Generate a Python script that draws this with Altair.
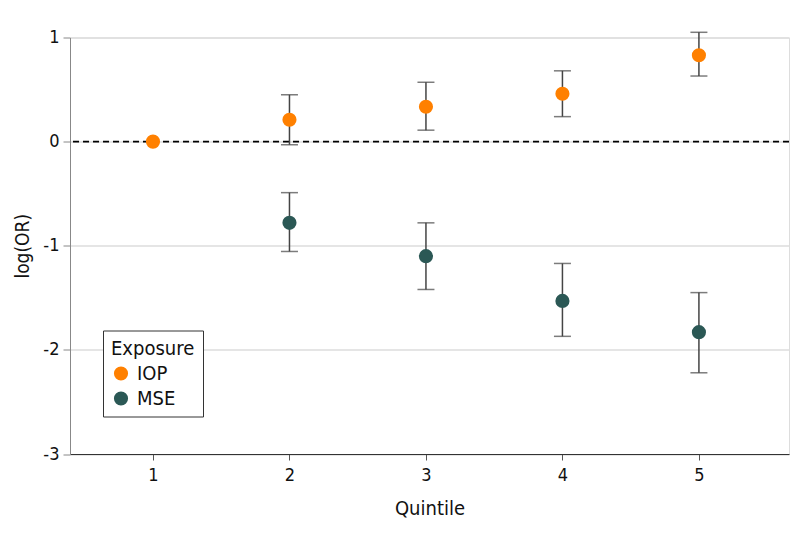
import altair as alt
import pandas as pd

quintile = [1, 2, 3, 4, 5]
iop_est = [0.0, 0.21, 0.335, 0.46, 0.83]
iop_lo = [None, -0.03, 0.11, 0.24, 0.63]
iop_hi = [None, 0.45, 0.57, 0.68, 1.05]
mse_q = [2, 3, 4, 5]
mse_est = [-0.78, -1.10, -1.53, -1.83]
mse_lo = [-1.055, -1.42, -1.87, -2.22]
mse_hi = [-0.49, -0.78, -1.17, -1.45]

rows = []
for q, e, l, h in zip(quintile, iop_est, iop_lo, iop_hi):
    rows.append({"Quintile": q, "Exposure": "IOP", "est": e, "lo": l, "hi": h})
for q, e, l, h in zip(mse_q, mse_est, mse_lo, mse_hi):
    rows.append({"Quintile": q, "Exposure": "MSE", "est": e, "lo": l, "hi": h})
df = pd.DataFrame(rows)
ci = df.dropna(subset=["lo", "hi"])

FONT = "DejaVu Sans Condensed, Roboto, sans-serif"

xs = alt.Scale(domain=[0.392, 5.66], nice=False, zero=False)
ys = alt.Scale(domain=[-3, 1], nice=False, zero=False)

x_enc = alt.X("Quintile:Q", scale=xs, title="Quintile",
              axis=alt.Axis(values=[1, 2, 3, 4, 5], format="d", grid=False,
                            domainColor="#333", tickColor="#555", tickSize=6,
                            labelFontSize=18, titleFontSize=20, labelPadding=6,
                            titlePadding=14, labelColor="#111", titleColor="#111",
                            titleFontWeight="normal", labelFont=FONT, titleFont=FONT))
y_axis = alt.Axis(values=[-3, -2, -1, 0, 1], grid=True,
                  labelExpr="'' + datum.value",
                  gridColor="#dddddd", gridWidth=1.5,
                  domainColor="#888", tickColor="#888", tickSize=7,
                  labelFontSize=18, titleFontSize=19, labelPadding=4,
                  titlePadding=10, labelColor="#111", titleColor="#111",
                  titleFontWeight="normal", labelFont=FONT, titleFont=FONT)

base_rule = alt.Chart(pd.DataFrame({"y": [0]})).mark_rule(
    color="black", strokeDash=[6, 4], strokeWidth=1.6
).encode(y=alt.Y("y:Q", scale=ys, title="log(OR)", axis=y_axis))

bars = alt.Chart(ci).mark_rule(color="#444", strokeWidth=1.5).encode(
    x=alt.X("Quintile:Q", scale=xs), y=alt.Y("lo:Q", scale=ys), y2="hi:Q"
)
cap_lo = alt.Chart(ci).mark_tick(color="#444", thickness=1.5, size=17, orient="horizontal").encode(
    x=alt.X("Quintile:Q", scale=xs), y=alt.Y("lo:Q", scale=ys)
)
cap_hi = alt.Chart(ci).mark_tick(color="#444", thickness=1.5, size=17, orient="horizontal").encode(
    x=alt.X("Quintile:Q", scale=xs), y=alt.Y("hi:Q", scale=ys)
)

points = alt.Chart(df).mark_circle(size=200, opacity=1).encode(
    x=x_enc,
    y=alt.Y("est:Q", scale=ys),
    color=alt.Color("Exposure:N",
                    scale=alt.Scale(domain=["IOP", "MSE"], range=["#FF8000", "#2B5855"]),
                    legend=alt.Legend(orient="none", legendX=33, legendY=293,
                                      title="Exposure", titleFontSize=20, labelFontSize=20,
                                      titleFont=FONT, labelFont=FONT,
                                      titleFontWeight="normal", titleColor="#111",
                                      labelColor="#111",
                                      symbolType="circle", symbolSize=200,
                                      symbolStrokeWidth=0, symbolOpacity=1,
                                      strokeColor="#333", fillColor="white",
                                      padding=8, rowPadding=5, titlePadding=5,
                                      labelOffset=6)),
)

chart = alt.layer(base_rule, bars, cap_lo, cap_hi, points).properties(
    width=719, height=416.5,
    autosize=alt.AutoSizeParams(type="none"),
    padding={"left": 62, "top": 29.5, "right": 1, "bottom": 85},
).configure_view(stroke=None).configure(font=FONT)

chart.save("out.html", embed_options={"renderer": "svg", "actions": False})
